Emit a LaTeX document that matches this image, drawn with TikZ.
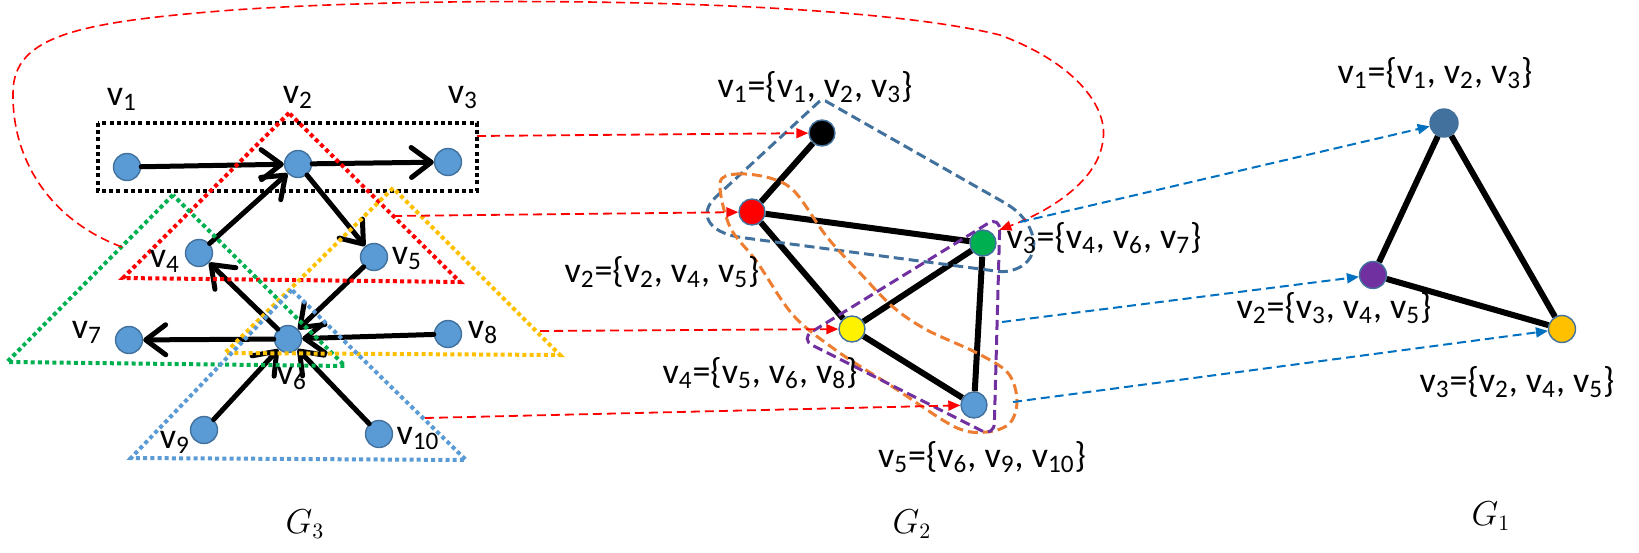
\documentclass[tikz,border=0pt]{standalone}
\usepackage{fontspec}
\setmainfont{Carlito}
\usetikzlibrary{arrows.meta}
\definecolor{nodeblue}{HTML}{5B9BD5}
\definecolor{edgeblue}{HTML}{41719C}
\definecolor{dred}{HTML}{FF0000}
\definecolor{dgreen}{HTML}{00B050}
\definecolor{dyellow}{HTML}{FFC000}
\definecolor{hullorange}{HTML}{ED7D31}
\definecolor{hullpurple}{HTML}{7030A0}
\definecolor{arrblue}{HTML}{0070C0}
\newcommand\vv[1]{v\textsubscript{#1}}
\begin{document}
\begin{tikzpicture}[x=0.5pt,y=-0.5pt,
  vert/.style={circle,draw=edgeblue,line width=0.7pt,fill=nodeblue,inner sep=0pt,minimum size=13.5pt},
  lbl/.style={font=\fontsize{18}{20}\selectfont,inner sep=0pt,anchor=base},
  glbl/.style={font=\fontsize{16}{18}\selectfont,inner sep=0pt,anchor=base},
  darr/.style={line width=2.5pt,line cap=round,-{Straight Barb[length=10pt,width=15pt,round]}},
  dotbox/.style={line width=2pt,dash pattern=on 2pt off 1.6pt},
  gedge/.style={line width=3pt},
  redarr/.style={dred,line width=0.9pt,dash pattern=on 4.5pt off 2.5pt,-{Triangle[length=6pt,width=5pt]}},
  bluearr/.style={arrblue,line width=1pt,dash pattern=on 4.5pt off 2.5pt,-{Triangle[length=6pt,width=5pt]}},
  hull/.style={line width=1.5pt,dash pattern=on 5pt off 2.5pt}
]
\useasboundingbox (0,0) rectangle (1639,552);

% ---------- G3 (left) ----------
\node[vert] (a1) at (127,167) {};
\node[vert] (a2) at (298,164) {};
\node[vert] (a3) at (448,162) {};
\node[vert] (a4) at (199,253) {};
\node[vert] (a5) at (374,257) {};
\node[vert] (a6) at (288,339) {};
\node[vert] (a7) at (129,340) {};
\node[vert] (a8) at (448,334) {};
\node[vert] (a9) at (204,430) {};
\node[vert] (a10) at (379,434) {};

\draw[darr] (a1) -- (a2);
\draw[darr] (a2) -- (a3);
\draw[darr] (a4) -- (a2);
\draw[darr] (a2) -- (a5);
\draw[darr] (a6) -- (a4);
\draw[darr] (a5) -- (a6);
\draw[darr] (a6) -- (a7);
\draw[darr] (a8) -- (a6);
\draw[darr] (a9) -- (a6);
\draw[darr] (a10) -- (a6);

\draw[dotbox,black] (98,123) rectangle (477,191);
\draw[dotbox,dred] (289,113) -- (123,278) -- (460,282) -- cycle;
\draw[dotbox,dgreen] (173,195) -- (7,362) -- (345,366) -- cycle;
\draw[dotbox,dyellow] (393,188) -- (225,353) -- (560,355) -- cycle;
\draw[dotbox,nodeblue] (292,290) -- (131,458) -- (466,460) -- cycle;

\node[lbl] (l1) at (122,105) {\vv{1}};
\node[lbl] (l2) at (298,103) {\vv{2}};
\node[lbl] (l3) at (463,103) {\vv{3}};
\node[lbl] (l4) at (165,267) {\vv{4}};
\node[lbl] (l5) at (407,264) {\vv{5}};
\node[lbl] (l6) at (292,384) {\vv{6}};
\node[lbl] (l7) at (87,338) {\vv{7}};
\node[lbl] (l8) at (483,338) {\vv{8}};
\node[lbl] (l9) at (175,448) {\vv{9}};
\node[lbl] (l10) at (418,444) {\vv{10}};

% ---------- G2 (middle) ----------
\node[vert,minimum size=13pt,fill=black] (m1) at (822,133) {};
\node[vert,minimum size=13pt,fill=red] (m2) at (752,212) {};
\node[vert,minimum size=13pt,fill=dgreen] (m3) at (983,243) {};
\node[vert,minimum size=13pt,fill=yellow] (m4) at (852,329) {};
\node[vert,minimum size=13pt] (m5) at (974,405) {};

\draw[gedge] (m1) -- (m2);
\draw[gedge] (m2) -- (m3);
\draw[gedge] (m2) -- (m4);
\draw[gedge] (m4) -- (m3);
\draw[gedge] (m4) -- (m5);
\draw[gedge] (m3) -- (m5);

\draw[hull,edgeblue,rounded corners=2pt] (822,99) -- (1005,203) .. controls (1040,225) and (1045,265) .. (1003,272) -- (745,238) .. controls (705,232) and (700,212) .. (718,195) -- cycle;
\draw[hull,hullorange] plot[smooth cycle,tension=0.55] coordinates {(720,183) (737,174) (770,178) (795,192) (827,237) (860,273) (893,307) (927,330) (977,353) (1008,373) (1017,400) (1010,423) (987,432) (955,427) (893,387) (837,351) (793,315) (757,262) (730,227)};
\draw[hull,hullpurple,rounded corners=7pt] (1000,216) -- (994,437) -- (800,339) -- cycle;

\node[lbl] (t1) at (815,97) {\vv{1}=\{\vv{1}, \vv{2}, \vv{3}\}};
\node[lbl] (t2) at (662,282) {\vv{2}=\{\vv{2}, \vv{4}, \vv{5}\}};
\node[lbl] (t3) at (1104,248) {\vv{3}=\{\vv{4}, \vv{6}, \vv{7}\}};
\node[lbl] (t4) at (760,383) {\vv{4}=\{\vv{5}, \vv{6}, \vv{8}\}};
\node[lbl] (t5) at (982,467) {\vv{5}=\{\vv{6}, \vv{9}, \vv{10}\}};

% ---------- G1 (right) ----------
\node[vert,minimum size=14pt,fill=edgeblue] (r1) at (1444,123) {};
\node[vert,fill=hullpurple] (r2) at (1373,275) {};
\node[vert,fill=dyellow] (r3) at (1562,329) {};

\draw[gedge] (r1) -- (r2);
\draw[gedge] (r1) -- (r3);
\draw[gedge] (r2) -- (r3);

\node[lbl] (u1) at (1435,83) {\vv{1}=\{\vv{1}, \vv{2}, \vv{3}\}};
\node[lbl] (u2) at (1334,318) {\vv{2}=\{\vv{3}, \vv{4}, \vv{5}\}};
\node[lbl] (u3) at (1517,392) {\vv{3}=\{\vv{2}, \vv{4}, \vv{5}\}};

% ---------- mapping arrows ----------
\coordinate (s1) at (477,136);
\coordinate (s2) at (393,216);
\coordinate (s3) at (540,331);
\coordinate (s4) at (425,418);
\draw[redarr] (s1) -- (m1);
\draw[redarr] (s2) -- (m2);
\draw[redarr] (s3) -- (m4);
\draw[redarr] (s4) -- (m5);

\coordinate (cs) at (122,247);
\draw[redarr,line width=0.8pt,shorten >=4pt] (cs) .. controls (50,220) and (12,160) .. (13,93)
  .. controls (13,35) and (80,22) .. (233,10)
  .. controls (450,-5) and (850,-2) .. (1000,35)
  .. controls (1080,65) and (1108,110) .. (1103,140)
  .. controls (1098,185) and (1040,215) .. (m3.50);

\coordinate (b1) at (1020,222);
\coordinate (b2) at (1002,322);
\coordinate (b3) at (1013,402);
\draw[bluearr] (b1) -- (r1);
\draw[bluearr] (b2) -- (r2);
\draw[bluearr] (b3) -- (r3);

% ---------- graph names ----------
\node[glbl] (g3) at (305,533) {$G_3$};
\node[glbl] (g2) at (912,533) {$G_2$};
\node[glbl] (g1) at (1491,525) {$G_1$};
\end{tikzpicture}
\end{document}
